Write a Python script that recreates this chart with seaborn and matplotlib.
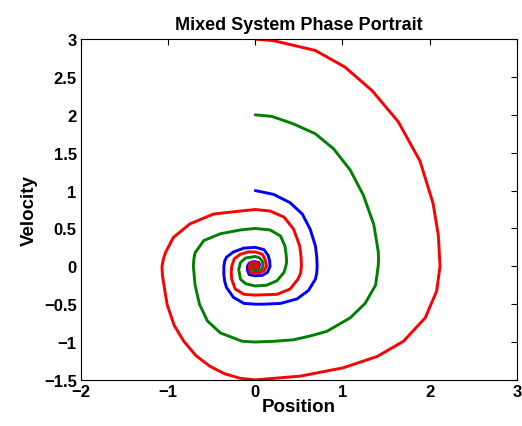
import matplotlib
matplotlib.use("Agg")
import matplotlib.pyplot as plt
import seaborn as sns
import pandas as pd

# Blue trajectory (starts at velocity 1)
blue_x = [0, 0.21, 0.40, 0.54, 0.63, 0.69, 0.705, 0.71, 0.705, 0.69, 0.61, 0.48, 0.29, 0.10, 0,
          -0.13, -0.25, -0.33, -0.35, -0.36, -0.36, -0.35, -0.33, -0.25, -0.13, 0, 0.10, 0.15,
          0.165, 0.17, 0.14, 0.08, 0, -0.07, -0.09, -0.09, -0.07, -0.03, 0, 0.04, 0.05, 0.045,
          0.03, 0, -0.02, -0.025, 0, 0.01]
blue_y = [1, 0.95, 0.84, 0.69, 0.49, 0.27, 0.13, 0, -0.09, -0.17, -0.32, -0.43, -0.49, -0.50, -0.5,
          -0.49, -0.41, -0.28, -0.20, -0.12, 0, 0.07, 0.12, 0.19, 0.24, 0.25, 0.22, 0.14,
          0.07, 0, -0.08, -0.12, -0.125, -0.11, -0.05, 0, 0.04, 0.06, 0.06, 0.05, 0.02, 0,
          -0.025, -0.03, -0.025, 0, 0.015, 0]

# Green trajectory (starts at velocity 2)
green_x = [0, 0.19, 0.44, 0.69, 0.90, 1.09, 1.24, 1.36, 1.41, 1.415, 1.41, 1.38, 1.26, 1.09, 0.82,
           0.63, 0.44, 0.22, 0, -0.15, -0.40, -0.55, -0.64, -0.69, -0.71, -0.705, -0.69, -0.59,
           -0.40, -0.17, 0, 0.17, 0.29, 0.34, 0.355, 0.36, 0.35, 0.33, 0.25, 0.13, 0, -0.11,
           -0.17, -0.19, -0.18, -0.17, -0.11, 0, 0.05, 0.08, 0.09, 0.07, 0.03, 0, -0.03, -0.045,
           -0.045, -0.03, 0, 0.02, 0.022, 0]
green_y = [2, 1.98, 1.88, 1.75, 1.55, 1.27, 0.94, 0.55, 0.20, 0.10, 0, -0.25, -0.49, -0.68, -0.86,
           -0.92, -0.97, -0.99, -1.0, -0.99, -0.88, -0.72, -0.50, -0.25, 0, 0.09, 0.18, 0.34,
           0.43, 0.48, 0.5, 0.48, 0.40, 0.27, 0.15, 0.05, 0, -0.08, -0.19, -0.25, -0.26, -0.23,
           -0.17, -0.04, 0, 0.05, 0.11, 0.13, 0.11, 0.07, 0, -0.04, -0.06, -0.06, -0.05, -0.02,
           0, 0.025, 0.03, 0.02, 0, -0.01]

# Red trajectory (starts at velocity 3)
red_x = [0, 0.21, 0.69, 1.03, 1.34, 1.64, 1.89, 2.04, 2.10, 2.12, 2.08, 1.95, 1.70, 1.40, 1.01,
         0.52, 0, -0.17, -0.35, -0.52, -0.68, -0.82, -0.93, -1.01, -1.04, -1.065, -1.07, -1.055,
         -1.03, -0.94, -0.75, -0.48, -0.17, 0, 0.17, 0.33, 0.44, 0.51, 0.525, 0.53, 0.52, 0.49,
         0.40, 0.25, 0, -0.13, -0.23, -0.27, -0.275, -0.27, -0.24, -0.17, -0.08, 0, 0.08, 0.11,
         0.13, 0.10, 0.04, 0, -0.04, -0.06, -0.07, -0.05, -0.02, 0, 0.03, 0.035, 0.02, 0,
         -0.015, -0.015, 0, 0]
red_y = [3, 2.98, 2.85, 2.63, 2.32, 1.91, 1.39, 0.83, 0.41, 0, -0.33, -0.68, -0.99, -1.19, -1.34,
         -1.45, -1.50, -1.48, -1.42, -1.32, -1.18, -0.99, -0.78, -0.51, -0.30, -0.12, 0, 0.09,
         0.18, 0.38, 0.56, 0.69, 0.73, 0.75, 0.73, 0.65, 0.49, 0.27, 0.13, 0, -0.09, -0.17,
         -0.30, -0.37, -0.38, -0.37, -0.30, -0.17, -0.08, 0, 0.10, 0.16, 0.19, 0.19, 0.16, 0.10,
         0, -0.06, -0.09, -0.09, -0.09, -0.06, 0, 0.04, 0.05, 0.05, 0.04, 0, -0.02, -0.025,
         -0.015, 0, 0.01, 0]

x_ticks = [-2, -1, 0, 1, 2, 3]
y_ticks = [-1.5, -1, -0.5, 0, 0.5, 1, 1.5, 2, 2.5, 3]

sns.set_style("white")
plt.rcParams['font.family'] = ['Liberation Sans', 'DejaVu Sans']
plt.rcParams['font.weight'] = 'bold'
plt.rcParams['text.color'] = 'black'
plt.rcParams['axes.labelcolor'] = 'black'
plt.rcParams['xtick.color'] = 'black'
plt.rcParams['ytick.color'] = 'black'

fig = plt.figure(figsize=(5.22, 4.27), dpi=100)
ax = fig.add_axes([0.155, 0.108, 0.835, 0.798])

series = [(blue_x, blue_y, '#0000FF'), (green_x, green_y, '#008000'), (red_x, red_y, '#FF0000')]
for xs, ys, c in series:
    df = pd.DataFrame({'x': xs, 'y': ys})
    sns.lineplot(data=df, x='x', y='y', sort=False, estimator=None, color=c, lw=2.1, ax=ax)

ax.set_xlim(-2, 3)
ax.set_ylim(-1.5, 3)
ax.set_xticks(x_ticks)
ax.set_yticks(y_ticks)
ax.set_xticklabels([('\u2212' + f'{abs(t):g}') if t < 0 else f'{t:g}' for t in x_ticks])
ax.set_yticklabels([('\u2212' + f'{abs(t):g}') if t < 0 else f'{t:g}' for t in y_ticks])
ax.tick_params(direction='in', top=True, right=True, length=4, width=0.8,
               labelsize=12, pad=3, colors='black')
for s in ax.spines.values():
    s.set_visible(True)
    s.set_color('black')
    s.set_linewidth(0.8)
ax.set_xlabel('Position', fontsize=13.5, fontweight='bold', labelpad=-1, color='black')
ax.set_ylabel('Velocity', fontsize=13.5, fontweight='bold', labelpad=4, color='black')
ax.set_title('Mixed System Phase Portrait', fontsize=13, fontweight='bold', pad=7, color='black')

fig.savefig('out.png', dpi=100)
